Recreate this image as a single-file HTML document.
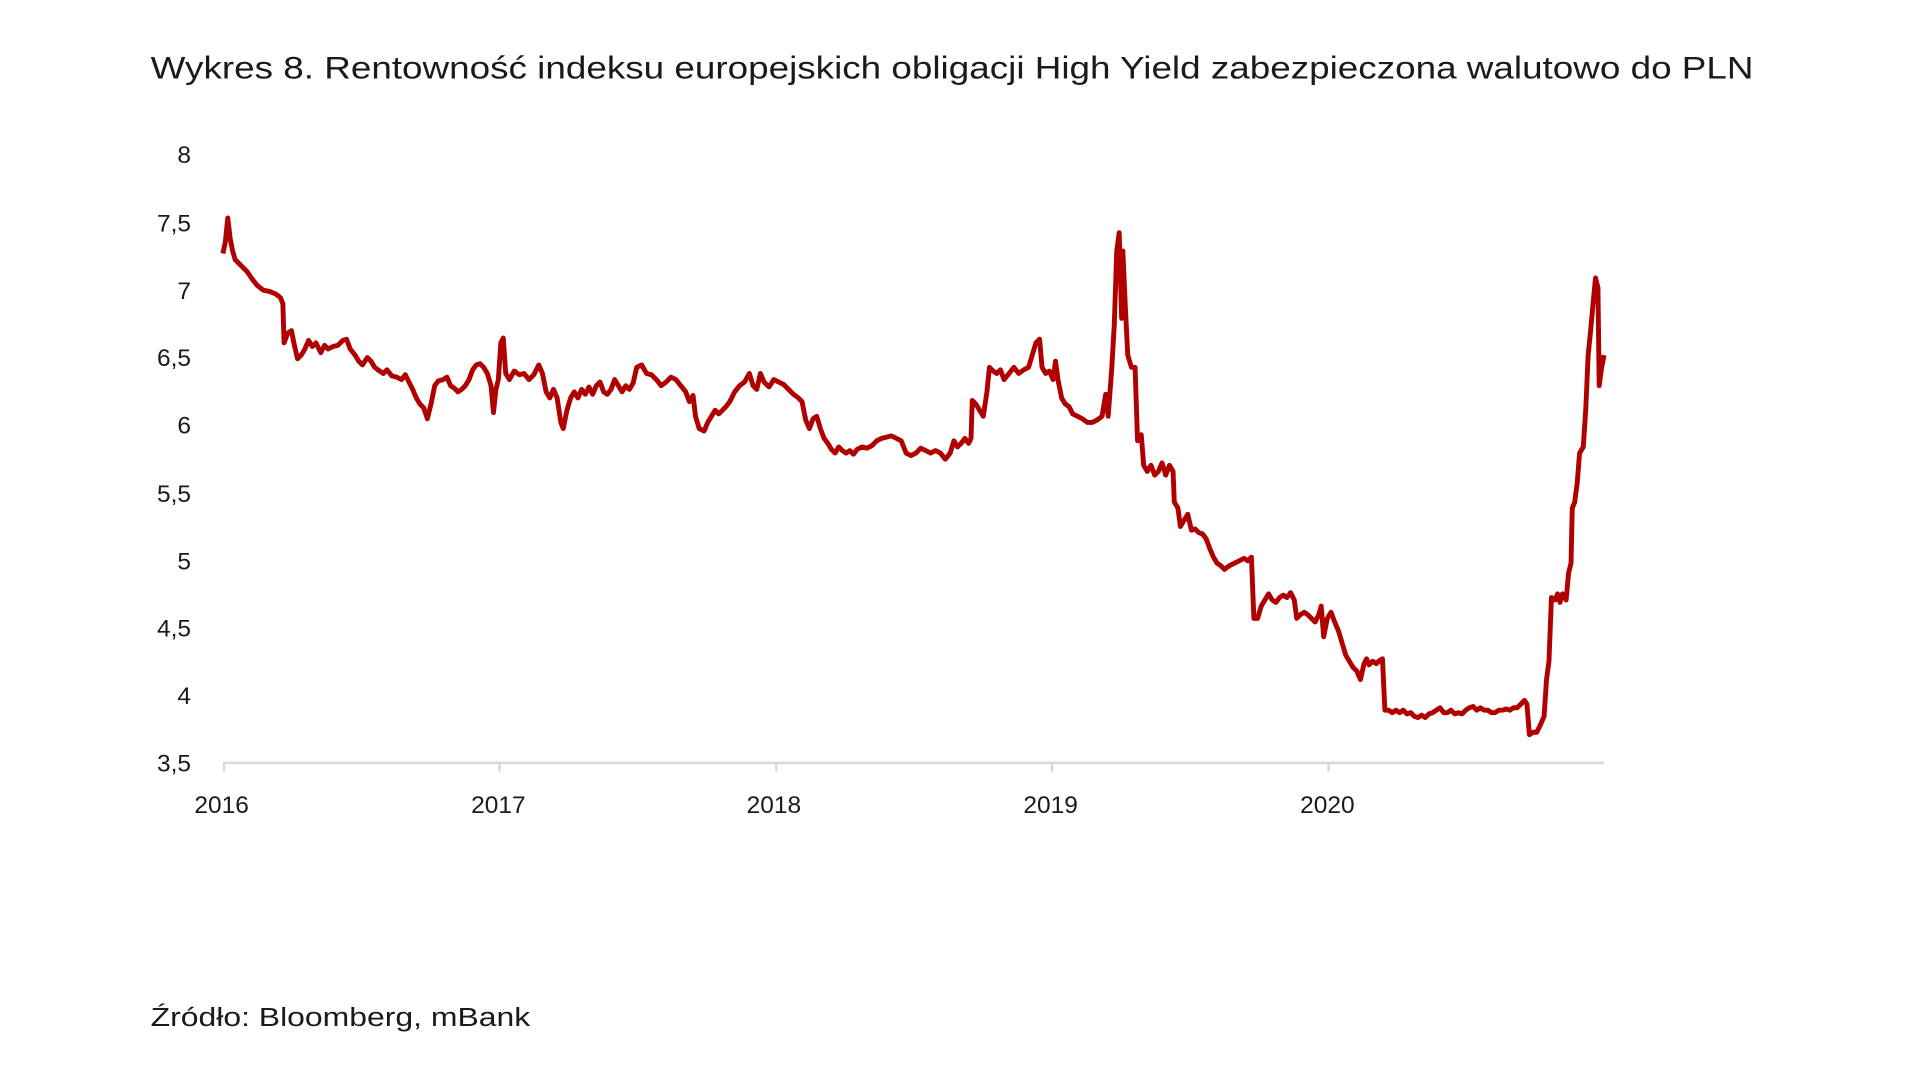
<!DOCTYPE html>
<html><head><meta charset="utf-8"><style>
html,body{margin:0;padding:0;background:#fff;}
svg{display:block;}
text{font-family:"Liberation Sans",sans-serif;fill:#1a1a1a;}
</style></head><body>
<svg width="1920" height="1080" viewBox="0 0 1568 882" xmlns="http://www.w3.org/2000/svg">
<text x="123" y="64" font-size="26" textLength="1309" lengthAdjust="spacingAndGlyphs">Wykres 8. Rentowność indeksu europejskich obligacji High Yield zabezpieczona walutowo do PLN</text>
<g font-size="20" text-anchor="end">
<text x="156" y="133">8</text>
<text x="156" y="189">7,5</text>
<text x="156" y="244">7</text>
<text x="156" y="299">6,5</text>
<text x="156" y="354">6</text>
<text x="156" y="410">5,5</text>
<text x="156" y="465">5</text>
<text x="156" y="520">4,5</text>
<text x="156" y="575">4</text>
<text x="156" y="630">3,5</text>
</g>
<line x1="182" y1="623" x2="1310" y2="623" stroke="#d9d9d9" stroke-width="2"/>
<g stroke="#d9d9d9" stroke-width="2">
<line x1="183" y1="623" x2="183" y2="630"/><line x1="408" y1="623" x2="408" y2="630"/><line x1="634" y1="623" x2="634" y2="630"/><line x1="859" y1="623" x2="859" y2="630"/><line x1="1085" y1="623" x2="1085" y2="630"/>
</g>
<g font-size="20" text-anchor="middle">
<text x="181" y="664">2016</text><text x="407" y="664">2017</text><text x="632" y="664">2018</text><text x="858" y="664">2019</text><text x="1084" y="664">2020</text>
</g>
<polyline fill="none" stroke="#b00000" stroke-width="4" stroke-linejoin="round" points="182,207 184,198 186,178 188,195 190,205 192,212 195,215 198,218 202,222 206,228 210,233 215,237 220,238 225,240 229,243 231,248 232,280 235,272 238,270 240,280 243,293 246,290 249,285 252,278 255,283 258,280 262,288 265,282 268,285 272,283 276,282 280,278 283,277 286,285 290,290 293,295 296,298 300,292 303,295 306,300 310,303 313,305 316,302 320,307 324,308 328,310 331,306 334,312 337,318 340,325 343,330 346,333 349,342 352,330 355,315 358,311 362,310 365,308 368,315 371,317 374,320 377,318 380,315 383,310 386,302 389,298 392,297 395,300 398,305 401,315 403,337 405,318 407,310 409,280 411,276 413,305 416,310 420,303 424,306 428,305 432,310 436,306 440,298 443,305 446,320 449,325 452,318 455,325 458,345 460,350 463,335 466,325 469,320 472,325 475,318 478,322 481,316 484,322 487,315 490,312 493,320 496,322 499,318 502,310 505,315 508,320 511,315 514,318 517,313 520,300 524,298 528,305 532,306 536,310 540,315 544,312 548,308 552,310 556,315 560,320 563,328 566,323 568,340 571,350 575,352 578,345 581,340 584,335 587,338 590,335 593,332 596,328 600,320 604,315 608,312 612,305 615,315 618,318 621,305 624,312 628,316 632,310 636,312 640,314 644,318 648,322 652,325 655,328 658,343 661,350 664,342 667,340 670,350 673,358 676,362 679,367 682,370 685,365 688,368 691,370 694,368 697,371 700,367 704,365 708,366 712,364 716,360 720,358 724,357 728,356 732,358 736,360 740,370 744,372 748,370 752,366 756,368 760,370 764,368 768,370 772,375 776,370 779,360 782,365 785,362 788,358 791,362 793,358 794,327 797,330 800,335 803,340 806,320 808,300 811,303 814,305 817,302 820,310 824,305 828,300 832,305 836,302 840,300 843,290 846,280 849,277 851,300 854,305 857,303 860,310 862,295 864,310 867,325 870,330 873,332 876,338 880,340 884,342 888,345 892,345 896,343 900,340 903,322 905,340 908,300 910,265 912,205 914,190 916,260 917,205 919,250 921,290 924,300 927,300 929,360 932,355 934,380 937,385 940,380 943,388 946,385 949,378 952,388 955,380 958,385 959,410 962,415 964,430 967,425 970,420 973,433 976,432 979,435 982,436 985,440 988,448 991,455 994,460 997,462 1000,465 1004,462 1008,460 1012,458 1016,456 1019,458 1022,455 1024,505 1027,505 1030,495 1033,490 1036,485 1039,490 1042,492 1045,488 1048,486 1051,488 1054,484 1057,490 1059,505 1062,502 1065,500 1068,502 1071,505 1074,508 1077,502 1079,495 1081,520 1084,505 1087,500 1090,508 1093,515 1096,525 1099,535 1102,540 1105,545 1108,548 1111,555 1114,542 1116,538 1118,543 1121,540 1124,542 1126,540 1129,538 1131,580 1134,580 1137,582 1140,580 1143,582 1146,580 1149,583 1152,582 1155,585 1158,586 1161,584 1164,586 1167,583 1170,582 1173,580 1176,578 1179,582 1182,582 1185,580 1188,583 1191,582 1194,583 1197,580 1200,578 1203,577 1206,580 1209,578 1212,580 1215,580 1218,582 1221,582 1224,580 1227,580 1230,579 1233,580 1236,578 1239,578 1242,575 1245,572 1247,575 1249,600 1252,598 1255,598 1258,592 1261,585 1263,555 1265,540 1267,488 1270,490 1272,485 1274,492 1276,485 1279,490 1281,468 1283,460 1284,415 1286,410 1288,395 1290,370 1293,365 1295,335 1297,290 1299,270 1301,248 1303,227 1305,235 1306,315 1308,300 1310,290"/>
<text x="123" y="838" font-size="21" textLength="310" lengthAdjust="spacingAndGlyphs">Źródło: Bloomberg, mBank</text>
</svg>
</body></html>
